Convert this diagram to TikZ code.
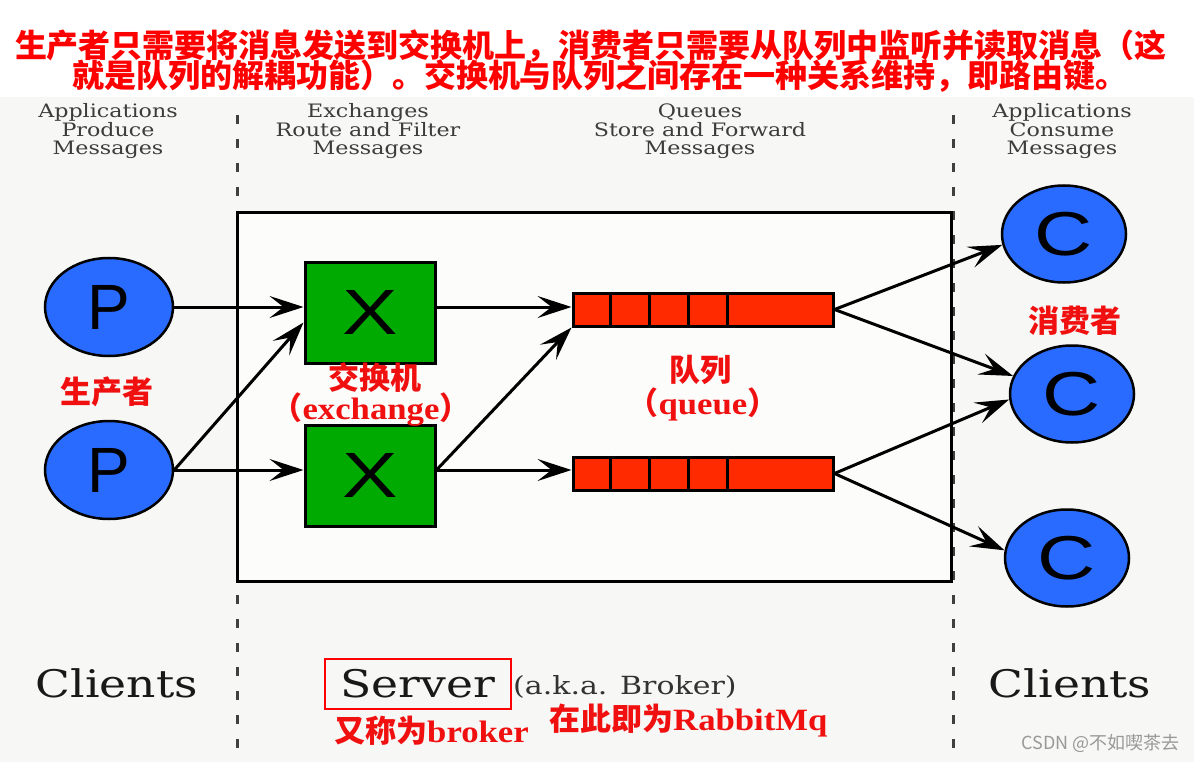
\documentclass[tikz,border=0pt]{standalone}
\usepackage{fontspec}
\usetikzlibrary{shapes.geometric,arrows.meta,calc}
\setmainfont{DejaVu Serif}
\newfontfamily\cjk{Noto Sans CJK SC}
\newfontfamily\hdrfont{DejaVu Serif}[FakeStretch=1.2]
\newfontfamily\clientfont{DejaVu Serif}[FakeStretch=1.2]
\newfontfamily\letterfont{Liberation Sans}
\newfontfamily\wideletter{Liberation Sans}[FakeStretch=1.3]
\newfontfamily\redserif{Liberation Serif}[FakeStretch=1.12]
\definecolor{bgc}{HTML}{F7F7F5}
\definecolor{pblue}{HTML}{2A6BFF}
\definecolor{xgreen}{HTML}{00AA00}
\definecolor{qred}{HTML}{FF2A00}
\definecolor{hdrgray}{HTML}{3C3C3C}
\definecolor{labred}{HTML}{F01010}
\tikzset{
  title/.style={text=red, inner sep=0pt, font=\cjk\bfseries\fontsize{32}{32}\selectfont},
  hdr/.style={text=hdrgray, inner sep=0pt, anchor=base, font=\hdrfont\fontsize{18.5}{18.5}\selectfont},
  client/.style={text=black!90, inner sep=0pt, anchor=base, font=\clientfont\fontsize{38}{38}\selectfont},
  pnode/.style={ellipse, draw=black, line width=2.5pt, fill=pblue, minimum width=128pt, minimum height=98pt, inner sep=0pt, font=\letterfont\fontsize{64}{64}\selectfont},
  cnode/.style={ellipse, draw=black, line width=2.5pt, fill=pblue, minimum width=124pt, minimum height=97pt, inner sep=0pt, font=\wideletter\fontsize{62}{62}\selectfont},
  xbox/.style={rectangle, draw=black, line width=3pt, fill=xgreen, minimum width=130pt, minimum height=101pt, inner sep=0pt, font=\wideletter\fontsize{64}{64}\selectfont},
  qbox/.style={rectangle, draw=black, line width=3pt, fill=qred, minimum width=260pt, minimum height=33pt, inner sep=0pt},
  arr/.style={line width=3pt, -{Stealth[length=34pt,width=22pt,inset=14pt]}},
  lab/.style={text=labred, inner sep=0pt, font=\cjk\bfseries\fontsize{31}{31}\selectfont},
  dash line/.style={line width=3pt, black!75, dash pattern=on 9pt off 15pt},
}
\begin{document}
\begin{tikzpicture}[x=1pt,y=-1pt]
\useasboundingbox (0,0) rectangle (1194,762);
\fill[white] (0,0) rectangle (1194,97);
\fill[bgc] (0,97) rectangle (1194,762);

% title
\node[title] (t1) at (591,46) {生产者只需要将消息发送到交换机上，消费者只需要从队列中监听并读取消息（这};
\node[title] (t2) at (600,76) {就是队列的解耦功能）。交换机与队列之间存在一种关系维持，即路由键。};

% headers
\node[hdr] (h11) at (108,118) {Applications};
\node[hdr] (h12) at (108,136.5) {Produce};
\node[hdr] (h13) at (108,155) {Messages};
\node[hdr] (h21) at (368,118) {Exchanges};
\node[hdr] (h22) at (368,136.5) {Route and Filter};
\node[hdr] (h23) at (368,155) {Messages};
\node[hdr] (h31) at (700,118) {Queues};
\node[hdr] (h32) at (700,136.5) {Store and Forward};
\node[hdr] (h33) at (700,155) {Messages};
\node[hdr] (h41) at (1062,118) {Applications};
\node[hdr] (h42) at (1062,136.5) {Consume};
\node[hdr] (h43) at (1062,155) {Messages};

% dashed separators
\coordinate (d1a) at (237,115); \coordinate (d1b) at (237,762);
\coordinate (d2a) at (953,115); \coordinate (d2b) at (953,762);
\draw[dash line] (d1a) -- (d1b);
\draw[dash line] (d2a) -- (d2b);

% server box
\draw[line width=3pt, fill=white!60!bgc] (237,213) rectangle (951,581);

% producers
\node[pnode] (P1) at (109,307) {P};
\node[pnode] (P2) at (109,470) {P};

% exchanges
\node[xbox] (X1) at (370,312.5) {X};
\node[xbox] (X2) at (370,475.5) {X};

% queues
\node[qbox] (Q1) at (703,309.5) {};
\node[qbox] (Q2) at (703,473.5) {};
\foreach \q in {Q1,Q2}{
  \foreach \d in {39,78,117,156}{
    \draw[line width=3pt] ([xshift=\d pt]\q.north west) -- ([xshift=\d pt]\q.south west);
  }
}

% consumers
\node[cnode] (C1) at (1064,234) {C};
\node[cnode] (C2) at (1072,394) {C};
\node[cnode] (C3) at (1067,558) {C};

% connectors
\draw[arr] (P1.east) -- (X1.west |- P1.east);
\draw[arr] (P2.east) -- ([yshift=-10pt]X1.west);
\draw[arr] (P2.east) -- (X2.west |- P2.east);
\draw[arr] (X1.east |- P1.east) -- (Q1.west |- P1.east);
\draw[arr] (X2.east |- P2.east) -- (Q1.south west);
\draw[arr] (X2.east |- P2.east) -- (Q2.west |- P2.east);
\draw[arr] (Q1.east) -- (C1.190);
\draw[arr] (Q1.east) -- (C2.163);
\draw[arr] (Q2.east) -- (C2.185);
\draw[arr] (Q2.east) -- (C3.173);

% red labels
\node[lab] (lp) at (107,392) {生产者};
\node[lab] (lx) at (375,378) {交换机};
\node[lab] (lxe) at (371,410) {（{\redserif\bfseries exchange}）};
\node[lab] (lq) at (700,370) {队列};
\node[lab] (lqe) at (703,404) {（{\redserif\bfseries queue}）};
\node[lab] (lc) at (1075,321) {消费者};

% bottom texts
\node[client] (cl1) at (117,697) {Clients};
\node[client] (cl2) at (1070,697) {Clients};
\node[client] (srv) at (418,697) {Server};
\node[client, anchor=base west, font=\clientfont\fontsize{25}{25}\selectfont, text=black!80] (aka) at (513,694) {(a.k.a. Broker)};
\draw[red, line width=2.5pt] (325,659) rectangle (511,709);
\node[lab, anchor=base west] (lb) at (334,742) {又称为{\redserif\bfseries broker}};
\node[lab, anchor=base west] (lr) at (549,730) {在此即为{\redserif\bfseries RabbitMq}};

% watermark
\node[text=black!40, inner sep=0pt, anchor=base east, font=\cjk\fontsize{18}{18}\selectfont] (wm) at (1180,749) {CSDN @不如喫茶去};
\end{tikzpicture}
\end{document}
